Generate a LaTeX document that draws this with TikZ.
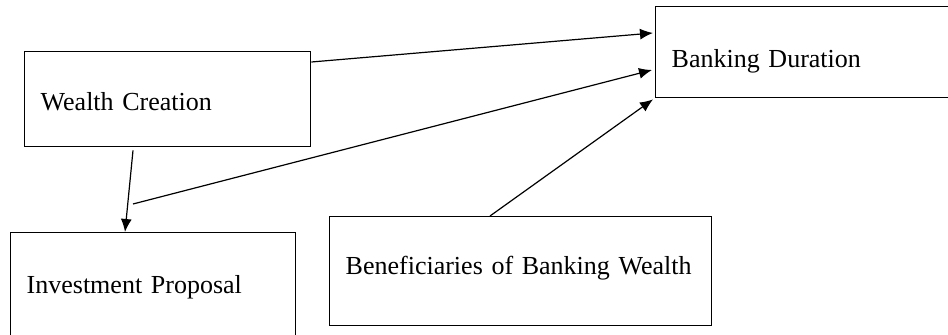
\documentclass[tikz,border=0pt]{standalone}
\usepackage{fontspec}
\setmainfont{Liberation Serif}
\usepackage{tikz}
\usetikzlibrary{arrows.meta, positioning, calc}
\tikzset{
	box/.style={
		draw,
		line width=0.7pt,
		align=left,
		inner xsep=8pt,
		inner ysep=0pt,
		text depth=0pt,
		font=\fontsize{13}{15}\selectfont,
		anchor=north west
	},
	arrow/.style={
		-{Latex[length=6.5pt, width=5.5pt]},
		line width=0.6pt
	}
}

\begin{document}
\begin{tikzpicture}[x=0.5pt, y=-0.5pt]
	\useasboundingbox (0,0) rectangle (948,335);
	
	% Boxes
	\node (WC) [box, text width=127pt, text height=11.6pt, minimum height=47.5pt] at (24,51) {Wealth Creation};
	\node (BD) [box, text width=131.5pt, text height=15.1pt, minimum height=45.5pt] at (655,6) {Banking Duration};
	\node (IP) [box, text width=126.5pt, text height=7.6pt, minimum height=53pt] at (10,232) {Investment Proposal};
	\node (BBW) [box, text width=175pt, text height=3.6pt, minimum height=54.5pt] at (329,216) {Beneficiaries of Banking Wealth};
	
	% Links to Banking Duration
	\coordinate (turn) at (133,204);
	\draw[arrow] ($(WC.north east)+(0,11)$) -- ($(BD.north west)+(-2,27)$);
	\draw[arrow] (turn) -- ($(BD.north west)+(-3,64)$);
	\draw[arrow] ($(BBW.north west)+(161,0)$) -- ($(BD.south west)+(-2,1)$);
	
	% Wealth Creation -> Investment Proposal
	\draw[arrow] ($(WC.south west)+(109,3)$) -- ($(IP.north west)+(115,0)$);
	
\end{tikzpicture}
\end{document}
